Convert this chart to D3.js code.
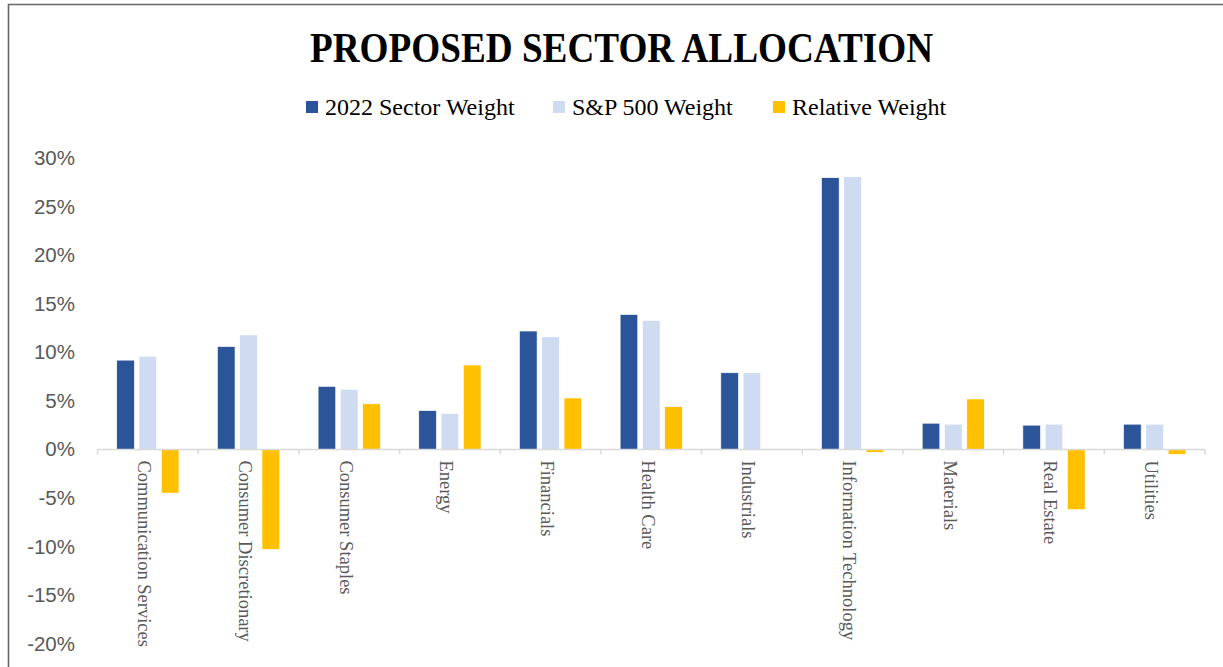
<!DOCTYPE html>
<html>
<head>
<meta charset="utf-8">
<script src="https://cdn.jsdelivr.net/npm/d3@7"></script>
<style>
  html, body { margin: 0; padding: 0; background: #fff; }
  svg { display: block; }
</style>
</head>
<body>
<svg id="chart" width="1223" height="667"></svg>
<script>
// Sector names along the x axis
const categories = [
  "Communication Services", "Consumer Discretionary", "Consumer Staples", "Energy",
  "Financials", "Health Care", "Industrials", "Information Technology",
  "Materials", "Real Estate", "Utilities"
];
// Series names (legend order)
const seriesNames = ["2022 Sector Weight", "S&P 500 Weight", "Relative Weight"];
// Weights in percent
const sectorWeight = [9.2, 10.6, 6.5, 4.0, 12.2, 13.9, 7.9, 28.0, 2.7, 2.5, 2.6];
const spWeight     = [9.6, 11.8, 6.2, 3.7, 11.6, 13.3, 7.9, 28.1, 2.6, 2.6, 2.6];
const relWeight    = [-4.5, -10.3, 4.7, 8.7, 5.3, 4.4, 0.0, -0.3, 5.2, -6.2, -0.5];
// Y axis tick values in percent
const yTicks = [-20, -15, -10, -5, 0, 5, 10, 15, 20, 25, 30];

const colors = ["#2B5499", "#CFDBF0", "#FFC000"];
const seriesValues = [sectorWeight, spWeight, relWeight];

const svg = d3.select("#chart");

// Outer frame (top and left edges of the chart area)
svg.append("path")
  .attr("d", "M8.5,667 L8.5,4.5 L1223,4.5")
  .attr("fill", "none")
  .attr("stroke", "#666")
  .attr("stroke-width", 1.6);

// Title
svg.append("text")
  .attr("x", 621.5)
  .attr("y", 62)
  .attr("text-anchor", "middle")
  .attr("font-family", "'Liberation Serif', 'Times New Roman', serif")
  .attr("font-weight", "bold")
  .attr("font-size", 43)
  .attr("textLength", 623)
  .attr("lengthAdjust", "spacingAndGlyphs")
  .attr("fill", "#000")
  .text("PROPOSED SECTOR ALLOCATION");

// Legend
const legendX = [306, 553, 773];
const legend = svg.append("g");
seriesNames.forEach((name, i) => {
  legend.append("rect")
    .attr("x", legendX[i]).attr("y", 101)
    .attr("width", 12).attr("height", 12)
    .attr("fill", colors[i]);
  legend.append("text")
    .attr("x", legendX[i] + 19)
    .attr("y", 115)
    .attr("font-family", "'Liberation Serif', 'Times New Roman', serif")
    .attr("font-size", 24)
    .attr("fill", "#000")
    .text(name);
});

// Scales
const x = d3.scaleBand()
  .domain(categories)
  .range([97.5, 1205])
  .padding(0);

const xInner = d3.scaleBand()
  .domain(d3.range(seriesNames.length))
  .range([0, x.bandwidth()])
  .paddingInner(0.21)
  .paddingOuter(0.863);

const y = d3.scaleLinear()
  .domain([-20, 30])
  .range([643.5, 158.3]);

// Y axis (labels only)
const yAxis = d3.axisLeft(y)
  .tickValues(yTicks)
  .tickSize(0)
  .tickPadding(0)
  .tickFormat(d => d + "%");

const yG = svg.append("g")
  .attr("transform", "translate(75,0)")
  .call(yAxis);
yG.select(".domain").remove();
yG.selectAll("text")
  .attr("font-family", "'Liberation Sans', Arial, sans-serif")
  .attr("font-size", 20.5)
  .attr("fill", "#595959");

// Bars
const groups = svg.append("g")
  .selectAll("g")
  .data(categories)
  .join("g")
  .attr("transform", d => `translate(${x(d)},0)`);

groups.selectAll("rect")
  .data((d, ci) => seriesValues.map((vals, si) => ({ si, v: vals[ci] })))
  .join("rect")
  .attr("x", d => xInner(d.si))
  .attr("width", xInner.bandwidth())
  .attr("y", d => y(Math.max(0, d.v)))
  .attr("height", d => Math.abs(y(d.v) - y(0)))
  .attr("fill", d => colors[d.si])
  .attr("stroke", "#fff")
  .attr("stroke-width", 0.6);

// X axis line with category boundary ticks
const zeroY = y(0);
const xAxisG = svg.append("g");
xAxisG.append("line")
  .attr("x1", x.range()[0]).attr("x2", x.range()[1])
  .attr("y1", zeroY).attr("y2", zeroY)
  .attr("stroke", "#D9D9D9")
  .attr("stroke-width", 1.5);
const boundaries = categories.map(c => x(c)).concat([x.range()[1]]);
xAxisG.selectAll(".tick")
  .data(boundaries)
  .join("line")
  .attr("class", "tick")
  .attr("x1", d => d).attr("x2", d => d)
  .attr("y1", zeroY).attr("y2", zeroY + 5)
  .attr("stroke", "#D9D9D9")
  .attr("stroke-width", 1.5);

// Category labels, rotated to read top to bottom
xAxisG.selectAll(".cat")
  .data(categories)
  .join("text")
  .attr("class", "cat")
  .attr("transform", d => `translate(${x(d) + x.bandwidth() / 2 - 3},${zeroY + 11}) rotate(90)`)
  .attr("dy", "0.35em")
  .attr("font-family", "'Liberation Serif', 'Times New Roman', serif")
  .attr("font-size", 18.5)
  .attr("fill", "#595959")
  .text(d => d);
</script>
</body>
</html>
